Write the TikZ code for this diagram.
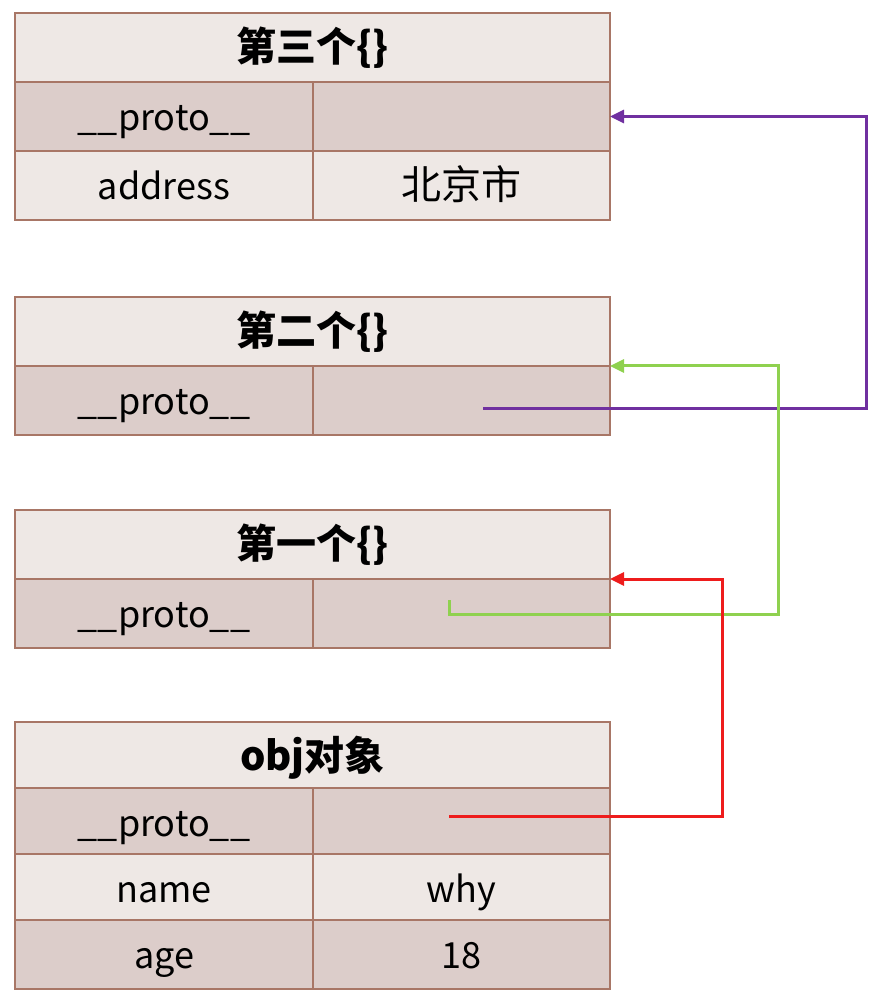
\documentclass[tikz,border=0pt]{standalone}
\usepackage{fontspec}
\setmainfont{Noto Sans CJK SC}
\usetikzlibrary{arrows.meta}

\begin{document}
\begin{tikzpicture}[x=0.5pt, y=-0.5pt,
    %Option for the arrows
    >={Triangle[length=7pt,width=6.5pt]}, %
    inner sep=0pt, outer sep=0pt,%
    cell/.style={draw=border, line width=0.8pt, fill=#1, anchor=north west,
        minimum height=34.5pt, text height=16pt, text depth=2pt,
        font=\fontsize{18}{22}\selectfont},
    head/.style={cell=light, minimum width=297.5pt, font=\fontsize{20}{24}\selectfont\bfseries},
    key/.style={cell=#1, minimum width=149pt},
    val/.style={cell=#1, minimum width=148.5pt},
    link/.style={line width=1.5pt, color=#1, ->},
]
    % Colors
    \definecolor{light}{HTML}{EEE8E5}
    \definecolor{dark}{HTML}{DCCDCA}
    \definecolor{border}{HTML}{A87666}
    \definecolor{linkpurple}{HTML}{7030A0}
    \definecolor{linkgreen}{HTML}{8FD14F}
    \definecolor{linkred}{HTML}{EE1C1C}

    \useasboundingbox (0,0) rectangle (894,999);

    % Third object
    \node[head]       (t3)   at (15,13)   {第三个\{\}};
    \node[key=dark]   (t3k1) at (15,82)   {\_\_proto\_\_};
    \node[val=dark]   (t3v1) at (313,82)  {};
    \node[key=light]  (t3k2) at (15,151)  {address};
    \node[val=light, font=\fontsize{20}{24}\selectfont]
                      (t3v2) at (313,151) {北京市};

    % Second object
    \node[head]       (t2)   at (15,297)  {第二个\{\}};
    \node[key=dark]   (t2k1) at (15,366)  {\_\_proto\_\_};
    \node[val=dark]   (t2v1) at (313,366) {};

    % First object
    \node[head]       (t1)   at (15,510)  {第一个\{\}};
    \node[key=dark]   (t1k1) at (15,579)  {\_\_proto\_\_};
    \node[val=dark]   (t1v1) at (313,579) {};

    % obj
    \begin{scope}[every node/.append style={minimum height=33pt}]
        \node[head]       (t0)   at (15,722)  {obj对象};
        \node[key=dark]   (t0k1) at (15,788)  {\_\_proto\_\_};
        \node[val=dark]   (t0v1) at (313,788) {};
        \node[key=light]  (t0k2) at (15,854)  {name};
        \node[val=light]  (t0v2) at (313,854) {why};
        \node[key=dark]   (t0k3) at (15,920)  {age};
        \node[val=dark]   (t0v3) at (313,920) {18};
    \end{scope}

    %Prototype links
    \coordinate (p2) at (483,408);
    \coordinate (p1) at (449,600);
    \coordinate (p0) at (449,816);

    \draw[link=linkpurple] (p2) -- ++(383,0) |- (t3v1.east);
    \draw[link=linkgreen]  (p1) -- ++(0,14) -- ++(329,0) |- (t2.south east);
    \draw[link=linkred]    (p0) -- ++(273,0) |- (t1.south east);

\end{tikzpicture}
\end{document}
